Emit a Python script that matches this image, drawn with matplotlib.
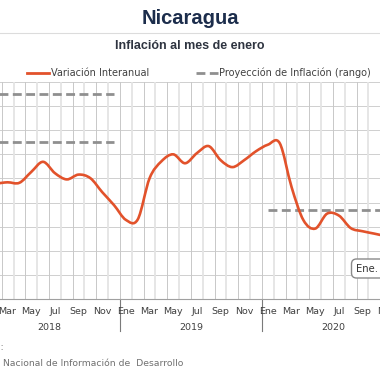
import matplotlib.pyplot as plt
import numpy as np
from matplotlib.path import Path
from matplotlib.patches import PathPatch
from matplotlib.lines import Line2D

# datos: inflacion interanual mensual, ene 2018 - dic 2020
meses = ['Ene', 'Feb', 'Mar', 'Abr', 'May', 'Jun', 'Jul', 'Ago', 'Sep', 'Oct', 'Nov', 'Dic']
anios = ['2018', '2019', '2020']
variacion = [4.90, 4.80, 4.84, 4.82, 5.27, 5.69, 5.22, 4.96, 5.16, 5.01, 4.43, 3.89,
             3.28, 3.30, 5.01, 5.71, 6.00, 5.63, 6.05, 6.34, 5.76, 5.47, 5.76, 6.13,
             6.40, 6.46, 4.64, 3.27, 2.92, 3.54, 3.46, 2.94, 2.81, 2.71, 2.61, 2.55]
# proyeccion (rango) por anio
proy_2018 = [8.5, 6.5]
proy_2020 = [3.7]
nota = 'Ene. 3.0%'

W = 380.0
def fx(px):
    return px / W
def fy(py):
    return 1 - py / W

fig = plt.figure(figsize=(3.8, 3.8), dpi=100)

naranja = '#E2522B'
gris_proy = '#8f8f8f'

# titulos
fig.text(0.5, fy(18), 'Nicaragua', ha='center', va='center', fontsize=14.5,
         fontweight='bold', color='#1c2d4c', family='Liberation Sans')
fig.add_artist(Line2D([0, 1], [fy(32.5), fy(32.5)], color='#dcdcdc', lw=0.8))
fig.text(0.5, fy(46), 'Inflación al mes de enero', ha='center', va='center', fontsize=9,
         fontweight='bold', color='#2e3440', family='Liberation Sans')

# ejes (el grafico se sale de la figura a ambos lados)
left, right, top, bottom = -22, 404, 82, 299
ax = fig.add_axes([fx(left), fy(bottom), (right - left) / W, (bottom - top) / W])
n = len(meses) * len(anios)
ax.set_xlim(0, n)
ax.set_ylim(0, 9)
for s in ['left', 'right', 'top']:
    ax.spines[s].set_visible(False)
ax.spines['bottom'].set_color('#a0a0a0')
ax.spines['bottom'].set_linewidth(0.8)
ax.set_xticks([])
ax.set_yticks([])

for yv in range(1, 10):
    ax.axhline(yv, color='#cfcfcf', lw=0.7, zorder=1)
for b in range(1, n):
    if b % 2 == 0:
        ax.axvline(b, color='#c8c8c8', lw=0.7, zorder=1)
    else:
        ax.axvline(b, color='#e4e4e4', lw=1.3, zorder=1)

# proyecciones
for v in proy_2018:
    ax.plot([0.5, 11.5], [v, v], color=gris_proy, lw=2, dashes=(3.2, 1.6), zorder=2)
for v in proy_2020:
    ax.plot([24.5, 35.5], [v, v], color=gris_proy, lw=2, dashes=(3.2, 1.6), zorder=2)

# linea suavizada (bezier tipo Catmull-Rom sobre los puntos mensuales)
xs = np.arange(n) + 0.5
ys = np.array(variacion)
pts = np.column_stack([xs, ys])
ext = np.vstack([pts[0], pts, pts[-1]])
verts = [pts[0]]
codes = [Path.MOVETO]
for i in range(len(pts) - 1):
    p0, p1, p2, p3 = ext[i], ext[i + 1], ext[i + 2], ext[i + 3]
    verts += [p1 + (p2 - p0) / 6, p2 - (p3 - p1) / 6, p2]
    codes += [Path.CURVE4] * 3
ax.add_patch(PathPatch(Path(verts, codes), fill=False, edgecolor=naranja, lw=1.9,
                       capstyle='round', joinstyle='round', zorder=3))

# etiquetas del eje x
tr = ax.get_xaxis_transform()
h = bottom - top
for k in range(n):
    if k % 2 == 0:
        ax.text(k + 0.5, -(311 - bottom) / h, meses[k % 12][:3], ha='center', va='center',
                fontsize=6.8, color='#404040', transform=tr, clip_on=False)
for j, a in enumerate(anios):
    ax.text(12 * j + 6, -(327 - bottom) / h, a, ha='center', va='center',
            fontsize=6.8, color='#404040', transform=tr, clip_on=False)
    if j > 0:
        ax.plot([12 * j, 12 * j], [0, -(331 - bottom) / h], color='#7a7a7a', lw=0.8,
                transform=tr, clip_on=False)

# nota
fig.text(fx(356), fy(268.5), nota, ha='left', va='center', fontsize=7.2, color='#333333',
         bbox=dict(boxstyle='round,pad=0.45,rounding_size=0.5', fc='white', ec='#8a8a8a', lw=1))

# leyenda
handles = [Line2D([], [], color=naranja, lw=2),
           Line2D([], [], color=gris_proy, lw=2, dashes=(3.2, 1.6))]
fig.legend(handles, ['Variación Interanual', 'Proyección de Inflación (rango)'],
           loc='center', bbox_to_anchor=(fx(199), fy(73)), ncol=2, frameon=False,
           fontsize=7, handlelength=2.3, handletextpad=0.15, columnspacing=4.8,
           labelcolor='#404040')

# fuente
fig.text(fx(4), fy(347), 'Fuente:', ha='right', va='center', fontsize=7, color='#707070')
fig.text(fx(3), fy(363), 'Instituto ', ha='right', va='center', fontsize=6.7, color='#707070')
fig.text(fx(3), fy(363), 'Nacional de Información de  Desarrollo', ha='left', va='center',
         fontsize=6.7, color='#707070')

fig.savefig('out.png', dpi=100)
